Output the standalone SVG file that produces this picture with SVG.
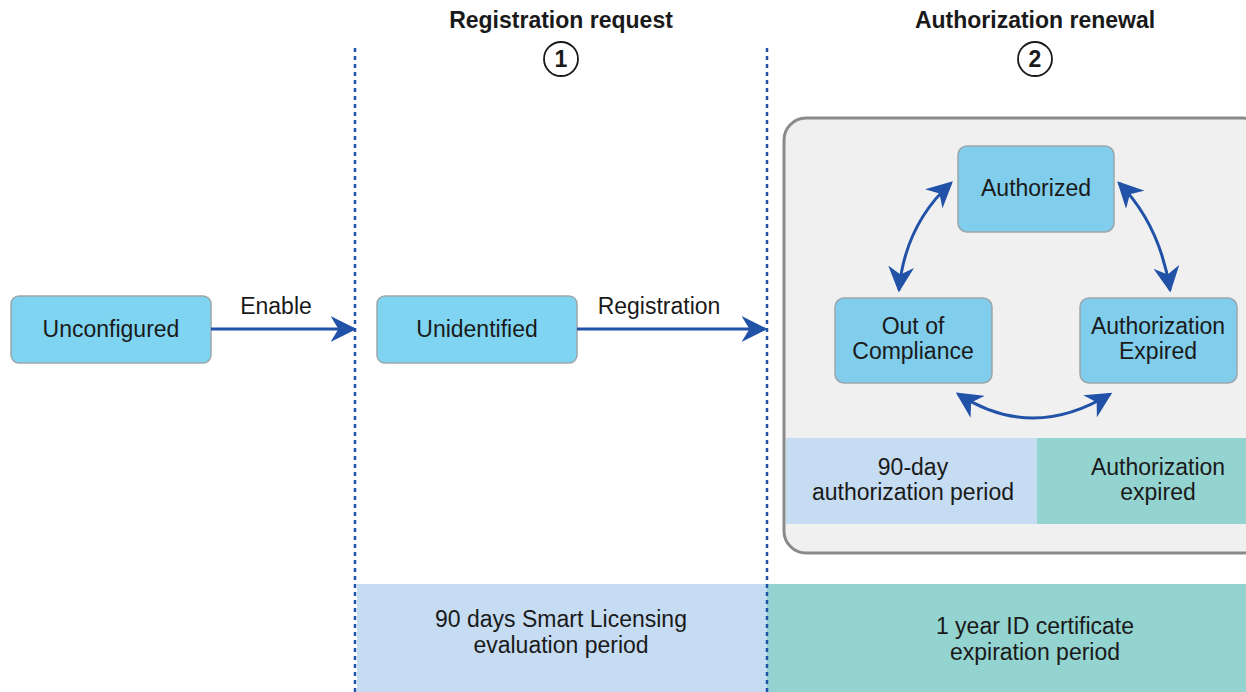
<svg xmlns="http://www.w3.org/2000/svg" width="1246" height="692" viewBox="0 0 1246 692">
<style>
text{font-family:"Liberation Sans",Arial,sans-serif;fill:#1a1a1a;text-anchor:middle}
.lbl{font-size:23px}
.title{font-size:23px;font-weight:bold}
.node{fill:#7fd5f1;stroke:#9aa6ab;stroke-width:1.5}
.node2{fill:#80cdec;stroke:#9aa6ab;stroke-width:1.5}
.conn{fill:none;stroke:#2152a8;stroke-width:3}
.div{stroke:#2152a8;stroke-width:2.5;stroke-dasharray:4 4}
</style>
<defs>
<marker id="ah2" viewBox="0 0 10 10" refX="9" refY="5" markerWidth="26" markerHeight="26" markerUnits="userSpaceOnUse" orient="auto-start-reverse">
<path d="M0,0 L10,5 L0,10 L3,5 Z" fill="#2152a8"/>
</marker>
</defs>
<rect width="1246" height="692" fill="#ffffff"/>
<g id="bands">
<rect x="357" y="584" width="410" height="108" fill="#c5dcf2"/>
<rect x="767" y="584" width="479" height="108" fill="#93d3d0"/>
<text class="lbl" x="561" y="627">90 days Smart Licensing</text>
<text class="lbl" x="561" y="653">evaluation period</text>
<text class="lbl" x="1035" y="634">1 year ID certificate</text>
<text class="lbl" x="1035" y="660">expiration period</text>
</g>
<g id="dividers">
<line class="div" x1="355" y1="48" x2="355" y2="692"/>
<line class="div" x1="767" y1="48" x2="767" y2="692"/>
</g>
<g id="headers">
<text class="title" x="561" y="28">Registration request</text>
<circle cx="561" cy="59" r="17" fill="#fff" stroke="#1a1a1a" stroke-width="1.8"/>
<text class="title" x="561" y="67">1</text>
<text class="title" x="1035" y="28">Authorization renewal</text>
<circle cx="1035" cy="59" r="17" fill="#fff" stroke="#1a1a1a" stroke-width="1.8"/>
<text class="title" x="1035" y="67">2</text>
</g>
<g id="renewal-panel">
<rect x="784" y="118" width="480" height="435" rx="22" fill="#f0f0f0" stroke="#8a8a8a" stroke-width="3"/>
<rect x="786" y="438" width="251" height="86" fill="#c5dcf2"/>
<rect x="1037" y="438" width="209" height="86" fill="#93d3d0"/>
<text class="lbl" x="913" y="475">90-day</text>
<text class="lbl" x="913" y="500">authorization period</text>
<text class="lbl" x="1158" y="475">Authorization</text>
<text class="lbl" x="1158" y="500">expired</text>
</g>
<g id="unconfigured">
<rect class="node" x="11" y="296" width="200" height="67" rx="8"/>
<text class="lbl" x="111" y="337">Unconfigured</text>
</g>
<g id="unidentified">
<rect class="node" x="377" y="296" width="200" height="67" rx="8"/>
<text class="lbl" x="477" y="337">Unidentified</text>
</g>
<g id="authorized">
<rect class="node2" x="958" y="146" width="156" height="86" rx="9"/>
<text class="lbl" x="1036" y="196">Authorized</text>
</g>
<g id="out-of-compliance">
<rect class="node2" x="835" y="298" width="157" height="85" rx="9"/>
<text class="lbl" x="913" y="334">Out of</text>
<text class="lbl" x="913" y="359">Compliance</text>
</g>
<g id="authorization-expired">
<rect class="node2" x="1080" y="298" width="157" height="85" rx="9"/>
<text class="lbl" x="1158" y="334">Authorization</text>
<text class="lbl" x="1158" y="359">Expired</text>
</g>
<g id="connectors">
<line class="conn" x1="211" y1="329" x2="354" y2="329" marker-end="url(#ah2)"/>
<line class="conn" x1="577" y1="329" x2="765" y2="329" marker-end="url(#ah2)"/>
<path class="conn" d="M951,183 Q905,225 899,290" marker-start="url(#ah2)" marker-end="url(#ah2)"/>
<path class="conn" d="M1119,183 Q1160,225 1170,290" marker-start="url(#ah2)" marker-end="url(#ah2)"/>
<path class="conn" d="M958,394 Q1032,442 1110,394" marker-start="url(#ah2)" marker-end="url(#ah2)"/>
<text class="lbl" x="276" y="314">Enable</text>
<text class="lbl" x="659" y="314">Registration</text>
</g>
</svg>
